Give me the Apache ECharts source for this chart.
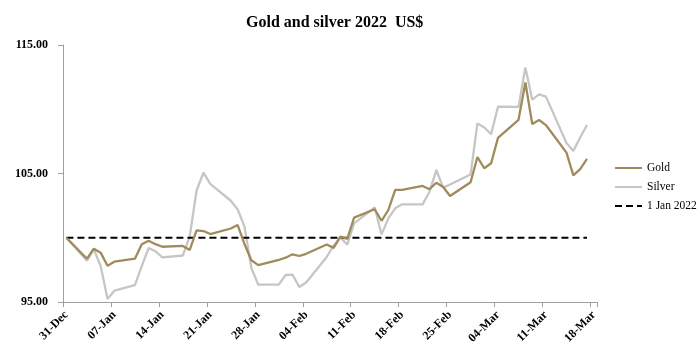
<!DOCTYPE html>
<html>
<head>
<meta charset="utf-8">
<script src="https://cdn.jsdelivr.net/npm/echarts@6/dist/echarts.min.js"></script>
<style>html,body{margin:0;padding:0;background:#fff}#c{width:700px;height:358px}</style>
</head>
<body>
<div id="c"></div>
<script>
// Trading dates (index 100 = 31-Dec-2021 close)
const tradeDates = [
  '2021-12-31',
  '2022-01-03','2022-01-04','2022-01-05','2022-01-06','2022-01-07',
  '2022-01-10','2022-01-11','2022-01-12','2022-01-13','2022-01-14',
  '2022-01-17','2022-01-18','2022-01-19','2022-01-20','2022-01-21',
  '2022-01-24','2022-01-25','2022-01-26','2022-01-27','2022-01-28',
  '2022-01-31','2022-02-01','2022-02-02','2022-02-03','2022-02-04',
  '2022-02-07','2022-02-08','2022-02-09','2022-02-10','2022-02-11',
  '2022-02-14','2022-02-15','2022-02-16','2022-02-17','2022-02-18',
  '2022-02-21','2022-02-22','2022-02-23','2022-02-24','2022-02-25',
  '2022-02-28','2022-03-01','2022-03-02','2022-03-03','2022-03-04',
  '2022-03-07','2022-03-08','2022-03-09','2022-03-10','2022-03-11',
  '2022-03-14','2022-03-15','2022-03-16','2022-03-17'
];
const gold = [
  100.0,
  98.37, 99.15, 98.84, 97.82, 98.14,
  98.37, 99.49, 99.77, 99.50, 99.30,
  99.36, 99.05, 100.57, 100.52, 100.29,
  100.72, 100.99, 99.50, 98.25, 97.87,
  98.27, 98.45, 98.71, 98.58, 98.75,
  99.47, 99.21, 100.08, 99.92, 101.57,
  102.22, 101.32, 102.16, 103.73, 103.73,
  104.03, 103.78, 104.28, 103.95, 103.25,
  104.32, 106.28, 105.41, 105.80, 107.77,
  109.18, 112.08, 108.85, 109.16, 108.77,
  106.62, 104.85, 105.34, 106.14
];
const silver = [
  100.0,
  98.21, 99.10, 97.80, 95.23, 95.88,
  96.32, 97.80, 99.20, 98.95, 98.47,
  98.62, 100.10, 103.68, 105.06, 104.20,
  102.88, 102.20, 100.86, 97.65, 96.35,
  96.35, 97.10, 97.13, 96.17, 96.52,
  98.50, 99.38, 100.03, 99.46, 101.12,
  102.37, 100.26, 101.51, 102.29, 102.60,
  102.60, 103.58, 105.27, 103.90, 104.15,
  104.92, 108.90, 108.58, 108.06, 110.20,
  110.18, 113.25, 110.75, 111.16, 110.98,
  107.38, 106.76, 107.80, 108.77
];
const baseline = 100; // 1 Jan 2022 reference level
const axisStart = '2021-12-31';
const axisEnd = '2022-03-18';
const yTicks = [95, 105, 115];
const seriesNames = ['Gold', 'Silver', '1 Jan 2022'];

const MON = ['Jan','Feb','Mar','Apr','May','Jun','Jul','Aug','Sep','Oct','Nov','Dec'];
function parse(s){ const p = s.split('-'); return Date.UTC(+p[0], +p[1]-1, +p[2]); }
function fmt(t){ const d = new Date(t); return String(d.getUTCDate()).padStart(2,'0') + '-' + MON[d.getUTCMonth()]; }

// Calendar-day categories
const cats = [], catKeys = [];
for (let t = parse(axisStart); t <= parse(axisEnd); t += 86400000) { cats.push(fmt(t)); catKeys.push(t); }
function toCat(values){
  const m = {};
  tradeDates.forEach((d,i) => { m[parse(d)] = values[i]; });
  return catKeys.map(k => (k in m ? m[k] : null));
}
const goldData = toCat(gold);
const silverData = toCat(silver);
const baseData = toCat(tradeDates.map(() => baseline));

const FONT = '"Liberation Serif", "DejaVu Serif", serif';
const chart = echarts.init(document.getElementById('c'), null, {renderer: 'canvas'});
chart.setOption({
  animation: false,
  backgroundColor: '#ffffff',
  title: {
    text: 'Gold and silver 2022  US$',
    left: 241, top: 10,
    textStyle: {fontFamily: FONT, fontSize: 16, fontWeight: 'bold', color: '#000'}
  },
  legend: {
    orient: 'vertical',
    left: 609, top: 157,
    itemWidth: 27, itemHeight: 10, itemGap: 7,
    data: seriesNames,
    itemStyle: {opacity: 0},
    textStyle: {fontFamily: FONT, fontSize: 11.5, color: '#000'}
  },
  grid: {left: 63, right: 102.7, top: 45, bottom: 56, containLabel: false},
  xAxis: {
    type: 'category',
    data: cats,
    boundaryGap: true,
    axisLine: {lineStyle: {color: '#a0a0a0', width: 1}},
    axisTick: {show: true, interval: 6, length: 5, lineStyle: {color: '#a0a0a0'}},
    axisLabel: {interval: 6, rotate: 45, margin: 11, fontFamily: FONT, fontSize: 12, fontWeight: 'bold', color: '#000'},
    splitLine: {show: false}
  },
  yAxis: {
    type: 'value',
    min: yTicks[0], max: yTicks[yTicks.length-1], interval: yTicks[1]-yTicks[0],
    axisLine: {show: true, lineStyle: {color: '#a0a0a0', width: 1}},
    axisTick: {show: true, length: 5, lineStyle: {color: '#a0a0a0'}},
    axisLabel: {margin: 15, fontFamily: FONT, fontSize: 12, fontWeight: 'bold', color: '#000', formatter: v => v.toFixed(2)},
    splitLine: {show: false}
  },
  series: [
    {name: seriesNames[0], type: 'line', data: goldData, connectNulls: true, symbol: 'none', z: 4,
     itemStyle: {color: '#A08B5C'}, lineStyle: {color: '#A08B5C', width: 2.3}},
    {name: seriesNames[1], type: 'line', data: silverData, connectNulls: true, symbol: 'none', z: 2,
     itemStyle: {color: '#C6C6C6'}, lineStyle: {color: '#C6C6C6', width: 2.3}},
    {name: seriesNames[2], type: 'line', data: baseData, connectNulls: true, symbol: 'none', z: 3,
     itemStyle: {color: '#000'}, lineStyle: {color: '#000', width: 1.8, type: [7, 4]}}
  ]
});
</script>
</body>
</html>
